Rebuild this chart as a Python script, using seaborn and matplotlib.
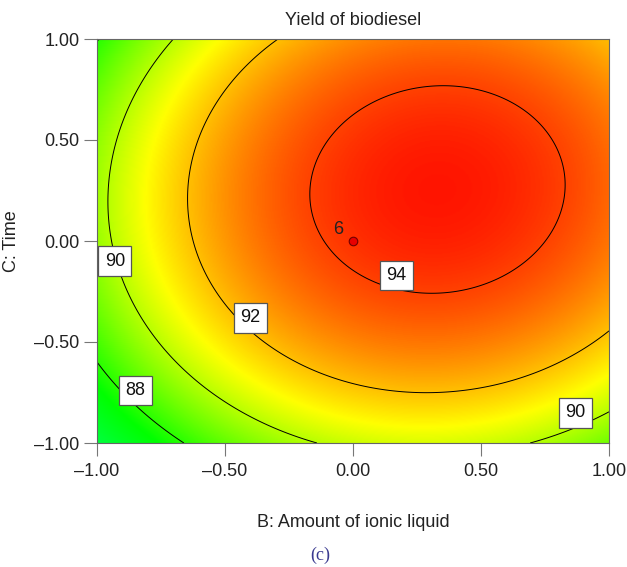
# Yield of biodiesel - response surface contour (B: ionic liquid vs C: time)
import numpy as np
import pandas as pd
import matplotlib
matplotlib.use("Agg")
import matplotlib.pyplot as plt
import seaborn as sns
from matplotlib.colors import LinearSegmentedColormap

# quadratic model (coded units)
peak_b = 0.33          # B at the maximum
peak_c = 0.255         # C at the maximum
peak_yield = 94.706    # yield at the maximum
curv_b = 2.845         # drop per B^2
curv_c = 2.68          # drop per C^2
inter_bc = 0.247       # B*C interaction

levels = [88, 90, 92, 94]
# where the boxed contour labels sit
label_b = [-0.93, -0.40, 0.17, -0.85, 0.87]
label_c = [-0.10, -0.38, -0.17, -0.74, -0.85]

# centre point of the design (6 replicates)
design = pd.DataFrame({"B": [0.0], "C": [0.0], "runs": ["6"]})

ticks = [-1.0, -0.5, 0.0, 0.5, 1.0]

# colour scale: yield value -> colour
scale_vals = [85.4, 87.4, 91.0, 94.8]
scale_cols = ["#00ff50", "#00ff00", "#ffff00", "#ff1000"]

sns.set_style("ticks")
plt.rcParams['font.family'] = ['Liberation Sans', 'DejaVu Sans']

b = np.linspace(-1, 1, 400)
c = np.linspace(-1, 1, 400)
B, C = np.meshgrid(b, c)
dB, dC = B - peak_b, C - peak_c
Y = peak_yield - curv_b * dB ** 2 - curv_c * dC ** 2 + inter_bc * dB * dC

lo, hi = scale_vals[0], scale_vals[-1]
cmap = LinearSegmentedColormap.from_list(
    "de", [((v - lo) / (hi - lo), col) for v, col in zip(scale_vals, scale_cols)])

fig = plt.figure(figsize=(6.27, 5.67), dpi=100)
ax = fig.add_axes([97 / 627, 1 - 443 / 567, 512 / 627, 404 / 567])

ax.imshow(Y, extent=[-1, 1, -1, 1], origin="lower", cmap=cmap,
          vmin=lo, vmax=hi, aspect="auto", interpolation="bilinear")
cs = ax.contour(B, C, Y, levels=levels, colors="black", linewidths=0.7)
spots = list(zip(label_b, label_c))
texts = ax.clabel(cs, manual=spots, inline=False, fmt="%d", fontsize=13)
for t, (x, y) in zip(texts, spots):
    t.set_rotation(0)
    t.set_position((x, y))
    t.set_color("#111111")
    t.set_bbox(dict(facecolor="white", edgecolor="#555555",
                    boxstyle="square,pad=0.35", linewidth=0.9))

sns.scatterplot(data=design, x="B", y="C", color="#e80000", s=38,
                edgecolor="#700000", linewidth=0.8, ax=ax, zorder=5, legend=False)
for _, row in design.iterrows():
    ax.annotate(row["runs"], (row["B"], row["C"]), xytext=(-11, 8),
                textcoords="offset points", ha="center", va="center",
                fontsize=13, color="#222222")

ax.set_xlim(-1, 1)
ax.set_ylim(-1, 1)
ax.set_xticks(ticks)
ax.set_yticks(ticks)
fmt = lambda v, p: f"{v:.2f}".replace("-", "\u2013")
ax.xaxis.set_major_formatter(plt.FuncFormatter(fmt))
ax.yaxis.set_major_formatter(plt.FuncFormatter(fmt))
ax.tick_params(direction="out", length=9.5, width=0.8, color="#777777",
               labelsize=13, labelcolor="#222222")
ax.tick_params(axis="x", pad=5)
ax.tick_params(axis="y", pad=3)
for s in ax.spines.values():
    s.set_color("#666666")
    s.set_linewidth(0.8)

ax.set_title("Yield of biodiesel", fontsize=13, color="#222222", pad=10)
ax.set_xlabel("B: Amount of ionic liquid", fontsize=13, color="#222222")
ax.set_ylabel("C: Time", fontsize=13, color="#222222")
ax.xaxis.set_label_coords(0.5, -0.175)
ax.yaxis.set_label_coords(-0.15, 0.5)

fig.text(320 / 627, 1 - 555 / 567, "(c)", family="Liberation Serif",
         fontsize=13, color="#3a3a90", ha="center", va="center")

fig.savefig("out.png", dpi=100)
